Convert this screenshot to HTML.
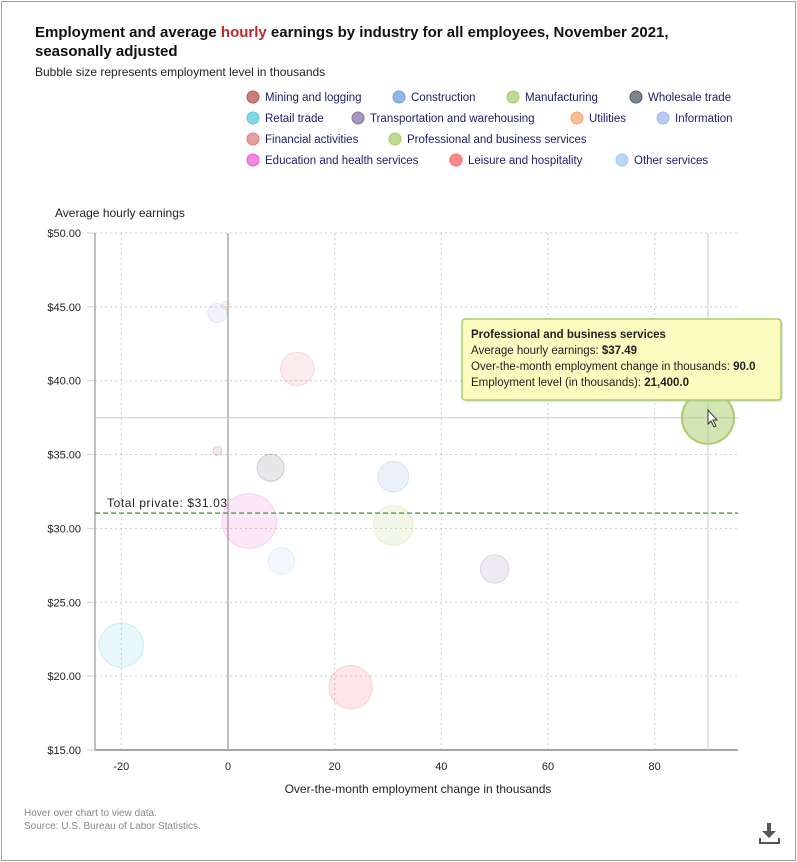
<!DOCTYPE html>
<html><head><meta charset="utf-8"><style>
html,body{margin:0;padding:0;background:#fff;}
body{width:797px;height:862px;overflow:hidden;position:relative;font-family:"Liberation Sans",sans-serif;}
#frame{position:absolute;left:1px;top:1px;width:793px;height:858px;border:1px solid #a0a0a0;}
svg{position:absolute;left:0;top:0;}
</style></head><body>
<div id="frame"></div>
<svg id="chart" width="797" height="862" xmlns="http://www.w3.org/2000/svg">
<text x="35" y="37" font-size="15" font-weight="bold" fill="#111">Employment and average <tspan fill="#c0272d">hourly</tspan> earnings by industry for all employees, November 2021,</text>
<text x="35" y="56" font-size="15" font-weight="bold" fill="#111">seasonally adjusted</text>
<text x="35" y="76" font-size="12" fill="#222">Bubble size represents employment level in thousands</text>
<g id="legend"></g>
<text x="55" y="217" font-size="12" fill="#222">Average hourly earnings</text>
<g id="grid"></g>
<g id="bubbles"></g>
<g id="overlay"></g>
<text x="418" y="793" font-size="12" fill="#222" text-anchor="middle">Over-the-month employment change in thousands</text>
<text x="24" y="816" font-size="10" fill="#888">Hover over chart to view data.</text>
<text x="24" y="829" font-size="10" fill="#888">Source: U.S. Bureau of Labor Statistics.</text>
<g>
<rect x="767" y="823" width="4" height="10" fill="#555"/><polygon points="762,831 776,831 769,838" fill="#555"/>
<path d="M760 838 v5 h19 v-5" stroke="#555" stroke-width="2" fill="none"/>
</g>
</svg>
<script>
const industries=["Mining and logging","Construction","Manufacturing","Wholesale trade","Retail trade","Transportation and warehousing","Utilities","Information","Financial activities","Professional and business services","Education and health services","Leisure and hospitality","Other services"];
const changeValues=[-2,31,31,8,-20,50,-0.4,-2,13,90,4,23,10];
const earningsValues=[35.24,33.5,30.2,34.1,22.1,27.25,45.1,44.58,40.8,37.49,30.5,19.25,27.8];
const employmentLevels=[650,7400,12500,5800,15500,6400,540,2900,8900,21400,23700,14800,5600];
const xTicks=[-20,0,20,40,60,80];
const yTicks=[15,20,25,30,35,40,45,50];
const totalPrivate=31.03;
const colors=["#b85450","#6fa0e0","#a8cc6c","#525b66","#5cc8dc","#8a74a8","#f5a86e","#a0b8ec","#e07e7e","#a8cc6c","#ee5fd6","#ff6060","#a4caf0"];
const highlight=9;
const NS="http://www.w3.org/2000/svg";
const X=v=>228+(v*5.333);
const Y=v=>233+(50-v)*14.77;
const R=s=>Math.sqrt(s/21400)*26;
function mk(tag,attrs,parent){const e=document.createElementNS(NS,tag);for(const k in attrs)e.setAttribute(k,attrs[k]);parent.appendChild(e);return e;}
const grid=document.getElementById('grid');
const pL=95,pR=738,pT=233,pB=750;
xTicks.forEach(t=>{
 const l=mk('line',{x1:X(t),x2:X(t),y1:pT,y2:pB,stroke:'#ccc','stroke-dasharray':'2,3'},grid);
 
 
 const tx=mk('text',{x:X(t),y:pB+20,'font-size':11,fill:'#222','text-anchor':'middle'},grid);tx.textContent=t;
 
 
});
yTicks.forEach(t=>{
 const l=mk('line',{x1:pL,x2:pR,y1:Y(t),y2:Y(t),stroke:'#ccc','stroke-dasharray':'2,3'},grid);
 
 
 mk('line',{x1:pL-8,x2:pL,y1:Y(t),y2:Y(t),stroke:'#c8d0ec'},grid);
 const tx=mk('text',{x:pL-14,y:Y(t)+4,'font-size':11,fill:'#222','text-anchor':'end'},grid);tx.textContent='$'+t.toFixed(2);
 
 
});
const xa=mk('line',{x1:pL,x2:pR,y1:pB,y2:pB,stroke:'#888','stroke-width':1.5},grid);


const ya=mk('line',{x1:pL,x2:pL,y1:pT,y2:pB,stroke:'#aaa','stroke-width':1.5},grid);


const zl=mk('line',{x1:X(0),x2:X(0),y1:pT,y2:pB,stroke:'#aaa','stroke-width':1.5},grid);


const ov=document.getElementById('overlay');
const bub=document.getElementById('bubbles');
const ch=mk('line',{x1:pL,x2:pR,y1:Y(earningsValues[highlight]),y2:Y(earningsValues[highlight]),stroke:'#ccc'},grid);


const cv=mk('line',{x1:X(changeValues[highlight]),x2:X(changeValues[highlight]),y1:pT,y2:pB,stroke:'#ccc'},grid);


industries.forEach((n,i)=>{
 const hl=i===highlight;
 const c=mk('circle',{cx:X(changeValues[i]),cy:Y(earningsValues[i]),r:R(employmentLevels[i]),fill:colors[i],'fill-opacity':hl?0.5:0.15,stroke:colors[i],'stroke-opacity':hl?1:0.25,'stroke-width':hl?2:1},bub);
 
 
});
const tp=mk('line',{x1:pL,x2:pR,y1:Y(totalPrivate),y2:Y(totalPrivate),stroke:'#4caf50','stroke-width':1.5,'stroke-dasharray':'5,3'},ov);


const tpl=mk('text',{x:107,y:Y(totalPrivate)-6,'font-size':12,fill:'#222','letter-spacing':'0.6'},ov);tpl.textContent='Total private: $'+totalPrivate.toFixed(2);


const tt=mk('g',{},ov);


mk('rect',{x:464,y:321,width:319,height:81,rx:3,fill:'#bbb','fill-opacity':0.4},tt);
mk('rect',{x:462,y:319,width:319,height:81,rx:3,fill:'#fafcc0',stroke:'#a8cc6c','stroke-width':1.5},tt);
const lines=[['Professional and business services','',true],['Average hourly earnings: ','$'+earningsValues[highlight].toFixed(2)],['Over-the-month employment change in thousands: ',changeValues[highlight].toFixed(1)],['Employment level (in thousands): ',employmentLevels[highlight].toLocaleString('en-US')+'.0']];
lines.forEach((l,k)=>{const t=mk('text',{x:471,y:338+k*16,'font-size':11.5,fill:'#222','font-weight':l[2]?'bold':'normal'},tt);t.textContent=l[0];if(l[1]){const s=mk('tspan',{'font-weight':'bold'},t);s.textContent=l[1];}});
mk('path',{d:'M708 410 l0 14 l3 -3 l3 6 l2 -1 l-3 -6 l4 0 z',fill:'#fff',stroke:'#333','stroke-width':1},ov);
const lg=document.getElementById('legend');
const legPos=[[247,97],[393,97],[507,97],[630,97],[247,118],[352,118],[571,118],[657,118],[247,139],[389,139],[247,160],[450,160],[616,160]];
industries.forEach((n,i)=>{
 const g=mk('g',{},lg);
 
 
 mk('circle',{cx:legPos[i][0]+6,cy:legPos[i][1],r:6,fill:colors[i],'fill-opacity':0.75,stroke:colors[i],'stroke-width':1},g);
 const t=mk('text',{x:legPos[i][0]+18,y:legPos[i][1]+4,'font-size':11.5,fill:'#1c1c6c'},g);t.textContent=n;
});
</script>
</body></html>
